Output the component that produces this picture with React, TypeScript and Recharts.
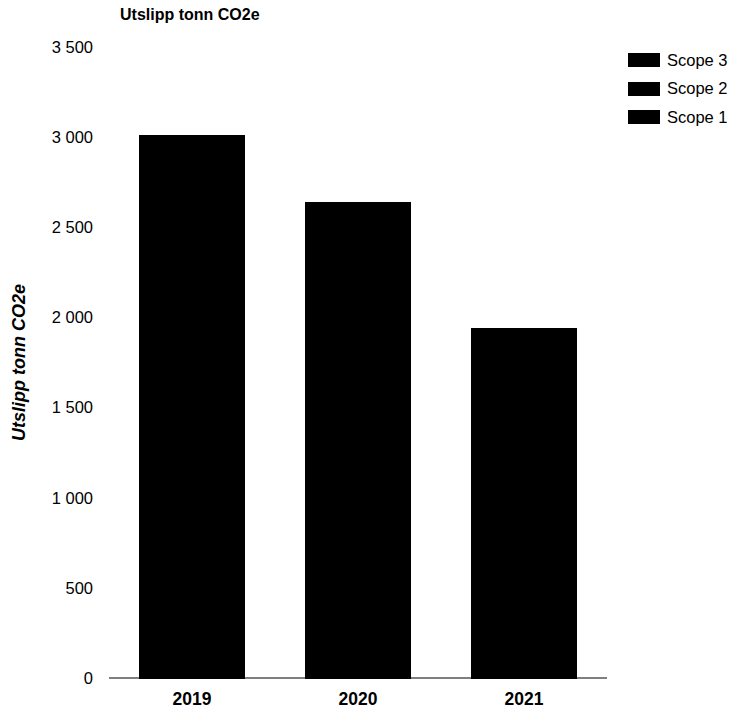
import React from "react";
import { BarChart, Bar, XAxis, YAxis } from "recharts";

const years = ["2019", "2020", "2021"];
const scope1 = [340, 300, 260];
const scope2 = [170, 150, 120];
const scope3 = [2500, 2185, 1555];
const yTicks = [0, 500, 1000, 1500, 2000, 2500, 3000, 3500];
const seriesNames = ["Scope 1", "Scope 2", "Scope 3"];
const seriesColors = ["#000000", "#000000", "#000000"];
const titleText = "Utslipp tonn CO2e";

const data = years.map((y, i) => ({
  year: y,
  s1: scope1[i],
  s2: scope2[i],
  s3: scope3[i],
}));

const FONT = "'Liberation Sans', Arial, sans-serif";

const fmt = (v: number) => {
  const s = String(v);
  return s.length > 3 ? s.slice(0, s.length - 3) + " " + s.slice(-3) : s;
};

const YLabel = (props: any) => {
  const vb = props.viewBox || {};
  const cx = 11;
  const cy = vb.y + vb.height / 2;
  return (
    <text
      x={cx}
      y={cy}
      transform={`rotate(-90, ${cx}, ${cy})`}
      textAnchor="middle"
      dominantBaseline="central"
      fontFamily={FONT}
      fontSize={18}
      fontWeight="bold"
      fontStyle="italic"
      fill="#000"
    >
      {titleText}
    </text>
  );
};

export default function App() {
  const keys = ["s1", "s2", "s3"];
  return (
    <div style={{ position: "relative", width: 721, height: 702, fontFamily: FONT }}>
      <div
        style={{
          position: "absolute",
          left: 112,
          top: -2,
          fontSize: 16,
          fontWeight: "bold",
          color: "#000",
        }}
      >
        {titleText}
      </div>
      <BarChart
        width={721}
        height={702}
        data={data}
        margin={{ top: 39, right: 122, bottom: 2, left: 41 }}
        barSize={104}
      >
        <XAxis
          dataKey="year"
          tickLine={false}
          tickSize={0}
          tickMargin={15}
          axisLine={{ stroke: "#000", strokeWidth: 1.2 }}
          tick={{ fill: "#000", fontSize: 17.5, fontWeight: "bold", fontFamily: FONT }}
        />
        <YAxis
          width={60}
          domain={[0, 3500]}
          ticks={yTicks}
          interval={0}
          axisLine={false}
          tickLine={false}
          tickSize={0}
          tickMargin={16}
          tickFormatter={fmt}
          tick={{ fill: "#000", fontSize: 16.5, fontFamily: FONT }}
          label={<YLabel />}
        />
        {keys.map((k, i) => (
          <Bar
            key={k}
            dataKey={k}
            name={seriesNames[i]}
            stackId="a"
            fill={seriesColors[i]}
            stroke={seriesColors[i]}
            strokeWidth={1.5}
            shapeRendering="crispEdges"
            isAnimationActive={false}
          />
        ))}
      </BarChart>
      <div style={{ position: "absolute", left: 620, top: 38 }}>
        {seriesNames
          .map((n, i) => ({ n, c: seriesColors[i] }))
          .reverse()
          .map((it) => (
            <div
              key={it.n}
              style={{ display: "flex", alignItems: "center", height: 28.5, fontSize: 16.5, color: "#000", whiteSpace: "nowrap" }}
            >
              <span
                style={{ display: "inline-block", width: 32, height: 14, background: it.c, marginRight: 7 }}
              />
              <span>{it.n}</span>
            </div>
          ))}
      </div>
    </div>
  );
}
